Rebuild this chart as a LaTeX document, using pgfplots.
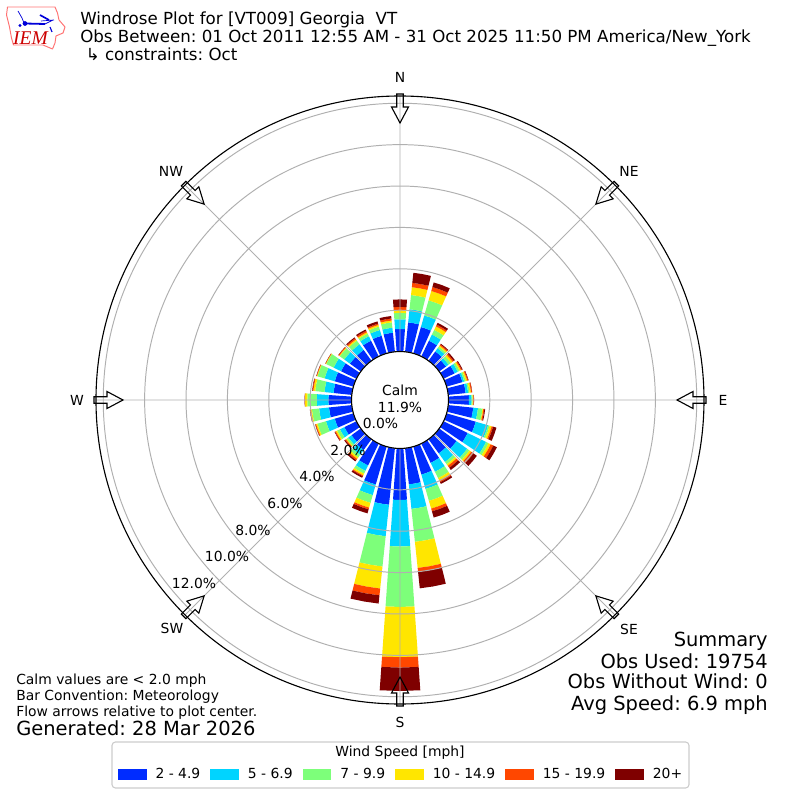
\documentclass[border=0pt]{standalone}
\usepackage{fontspec}
\setmainfont{DejaVu Sans}
\newfontfamily\iemfont{Liberation Serif}
\usepackage{pgfplots}
\usepackage{pgfplotstable}
\usepgfplotslibrary{polar}
\pgfplotsset{compat=1.18}

\definecolor{bin1}{HTML}{002CFF}
\definecolor{bin2}{HTML}{00D4FF}
\definecolor{bin3}{HTML}{7DFF7A}
\definecolor{bin4}{HTML}{FFE600}
\definecolor{bin5}{HTML}{FF4700}
\definecolor{bin6}{HTML}{7F0000}
\definecolor{gridgray}{HTML}{B0B0B0}

% cumulative percent of obs at the top of each speed bin, by direction
\pgfplotstableread{
dir b0 b1 b2 b3 b4 b5 b6
0 0 1.09 1.56 1.87 2.00 2.16 2.52
10 0 1.43 2.07 2.76 3.14 3.35 3.84
20 0 1.33 1.91 2.67 3.14 3.34 3.57
30 0 0.85 1.18 1.43 1.62 1.71 1.81
40 0 0.56 0.75 0.85 0.92 0.98 1.02
50 0 0.41 0.56 0.70 0.80 0.87 0.94
60 0 0.60 0.77 0.87 0.94 0.99 1.03
70 0 0.80 0.89 0.97 1.04 1.09 1.11
80 0 0.85 0.97 1.04 1.11 1.16 1.17
90 0 0.99 1.12 1.17 1.21 1.23 1.24
100 0 1.22 1.45 1.67 1.71 1.76 1.80
110 0 1.47 2.09 2.17 2.27 2.34 2.51
120 0 1.30 2.29 2.42 2.54 2.68 2.87
130 0 1.04 1.67 1.81 1.91 2.05 2.25
140 0 0.85 1.36 1.50 1.59 1.71 1.84
150 0 1.04 1.52 1.86 2.00 2.08 2.17
160 0 1.41 2.13 2.73 3.12 3.26 3.57
170 0 1.76 2.95 4.55 5.82 6.01 6.81
180 0 2.49 4.74 7.66 10.09 10.59 11.72
190 0 2.75 4.28 5.75 6.82 7.15 7.55
200 0 1.91 2.44 2.83 3.07 3.16 3.36
210 0 1.18 1.47 1.62 1.71 1.76 1.84
220 0 0.65 0.94 1.09 1.18 1.26 1.33
230 0 0.56 0.75 0.85 0.89 0.94 0.99
240 0 0.65 0.89 1.04 1.11 1.16 1.18
250 0 0.94 1.38 1.81 1.88 1.92 1.93
260 0 1.11 1.59 1.94 2.00 2.03 2.04
270 0 1.12 1.68 2.14 2.25 2.26 2.27
280 0 0.89 1.33 1.78 1.87 1.91 1.93
290 0 0.94 1.45 1.81 1.84 1.86 1.87
300 0 0.83 1.23 1.63 1.66 1.67 1.68
310 0 0.65 0.99 1.26 1.30 1.34 1.35
320 0 0.65 0.99 1.21 1.28 1.35 1.40
330 0 0.85 1.09 1.23 1.30 1.38 1.45
340 0 0.89 1.18 1.35 1.43 1.50 1.61
350 0 0.93 1.17 1.43 1.52 1.62 1.74
}\rosedata

% the radial axis starts 2.34 below 0 percent to leave room for the calm circle
\newcommand{\rzero}{2.34}
\newcommand{\fs}[1]{\fontsize{#1}{#1}\selectfont}

\begin{document}
\frenchspacing
\begin{tikzpicture}
\path[use as bounding box] (0,0) rectangle (576pt,576pt);
\begin{polaraxis}[
    at={(288pt,288pt)},
    anchor=center,
    scale only axis,
    width=437.76pt,
    height=437.76pt,
    xmin=0, xmax=360,
    ymin=0, ymax=14.69,
    xtick={0,45,...,315},
    xticklabels={},
    ytick={2.34,4.34,6.34,8.34,10.34,12.34,14.34},
    yticklabels={},
    major tick length=0pt,
    grid=major,
    grid style={gridgray, line width=0.7pt},
    x axis line style={black, line width=0.8pt},
    y axis line style={draw=none},
    axis on top,
    clip=false,
    legend columns=6,
    legend cell align=left,
    legend style={
        at={(0.5,-0.1155)}, anchor=center,
        draw=none, fill=none, font=\fs{10},
        nodes={inner xsep=0pt},
        /tikz/every odd column/.append style={column sep=6.8pt},
        /tikz/every even column/.append style={column sep=7.1pt},
    },
    legend image code/.code={
        \fill[#1] (0pt,-3.5pt) rectangle (20pt,3.5pt);
    },
]
\addlegendimage{bin1}
\addlegendentry{2 - 4.9}
\addlegendimage{bin2}
\addlegendentry{5 - 6.9}
\addlegendimage{bin3}
\addlegendentry{7 - 9.9}
\addlegendimage{bin4}
\addlegendentry{10 - 14.9}
\addlegendimage{bin5}
\addlegendentry{15 - 19.9}
\addlegendimage{bin6}
\addlegendentry{20+}

\pgfplotsforeachungrouped \row in {0,...,35} {
    \pgfplotstablegetelem{\row}{dir}\of\rosedata
    \pgfmathsetmacro\angmid{90-\pgfplotsretval}
    \pgfmathsetmacro\angone{\angmid-4}
    \pgfmathsetmacro\angtwo{\angmid+4}
    \pgfplotsforeachungrouped \bin in {1,...,6} {
        \pgfmathtruncatemacro\prevbin{\bin-1}
        \pgfplotstablegetelem{\row}{b\prevbin}\of\rosedata
        \pgfmathsetmacro\rlow{\pgfplotsretval+\rzero}
        \pgfplotstablegetelem{\row}{b\bin}\of\rosedata
        \pgfmathsetmacro\rhigh{\pgfplotsretval+\rzero}
        \edef\wedge{\noexpand\addplot[forget plot, draw=none, fill=bin\bin, mark=none]
            coordinates {(\angone,\rlow) (\angmid,\rlow) (\angtwo,\rlow)
                (\angtwo,\rhigh) (\angmid,\rhigh) (\angone,\rhigh)} --cycle;}
        \wedge
    }
}
\end{polaraxis}

% everything else is placed in image pixels, y down
\begin{scope}[shift={(0,576pt)}, x=0.72pt, y=-0.72pt]
\draw[black, fill=white, line width=0.8pt] (400,400) circle[radius=34.92pt];
\node[font=\fs{10}, align=center, inner sep=0pt] at (400,399) {Calm\\[2.6pt]11.9\%};

\foreach \lab/\px/\py in {0.0\%/380.5/423.5, 2.0\%/348/450.5, 4.0\%/317/476.5,
    6.0\%/285/503, 8.0\%/253/530, 10.0\%/227/556.5, 12.0\%/194/583}
    \node[font=\fs{10}, inner sep=0pt] at (\px,\py) {\lab};

\foreach \lab/\px/\py in {N/400/77, NE/629/171, E/723/400, SE/629/629,
    S/400/722, SW/172/628, W/77/400, NW/171/171}
    \node[font=\fs{10}, inner sep=0pt] at (\px,\py) {\lab};

\foreach \rot in {0,45,...,315} {
    \begin{scope}[shift={(400,400)}, rotate=\rot]
    \draw[black, line width=0.8pt, line join=miter] (-3.3,-306) -- (-3.3,-293) -- (-8.5,-293) -- (0,-277)
        -- (8.5,-293) -- (3.3,-293) -- (3.3,-306) -- cycle;
    \end{scope}
}

% header
\node[font=\fs{12}, anchor=base west, inner sep=0pt] at (80,25) {Windrose Plot for [VT009] Georgia\ \ VT};
\node[font=\fs{12}, anchor=base west, inner sep=0pt] at (80,43) {Obs Between: 01 Oct 2011 12:55 AM - 31 Oct 2025 11:50 PM America/New\_York};
\node[font=\fs{12}, anchor=base west, inner sep=0pt] at (85.5,61) {↳ constraints: Oct};

% footer notes
\node[font=\fs{10}, anchor=base west, inner sep=0pt] at (16,685) {Calm values are < 2.0 mph};
\node[font=\fs{10}, anchor=base west, inner sep=0pt] at (16,701) {Bar Convention: Meteorology};
\node[font=\fs{10}, anchor=base west, inner sep=0pt] at (16,717) {Flow arrows relative to plot center.};
\node[font=\fs{14}, anchor=base west, inner sep=0pt] at (16,736) {Generated: 28 Mar 2026};

\node[font=\fs{14}, anchor=base east, inner sep=0pt] at (768,646) {Summary};
\node[font=\fs{14}, anchor=base east, inner sep=0pt] at (768,668) {Obs Used: 19754};
\node[font=\fs{14}, anchor=base east, inner sep=0pt] at (768,689) {Obs Without Wind: 0};
\node[font=\fs{14}, anchor=base east, inner sep=0pt] at (768,711) {Avg Speed: 6.9 mph};

% legend frame and title
\draw[black!20, line width=0.8pt, rounded corners=2.5pt] (112,742) rectangle (689,788);
\node[font=\fs{10}, inner sep=0pt] at (400,753) {Wind Speed [mph]};

% IEM logo
\draw[red!55!white, line width=0.7pt, line join=round] (7.5,7) -- (55,7) -- (57.5,13) -- (59,20) -- (65,27) -- (63,33) -- (56,36) -- (55,43) -- (52.5,49) -- (43,45) -- (13.5,45) -- (11.5,38) -- (9.5,27) -- (6.5,15) -- cycle;
\draw[blue!85!black, line width=1.3pt] (25,23.5) -- (45,24);
\draw[blue!85!black, line width=0.5pt] (45,24) -- (53,20) (18,11) -- (22,18) -- (24,23) (41,21) -- (54,20);
\draw[blue!85!black, line width=1.2pt] (40,15) -- (49,20);
\fill[blue!85!black] (25,23.5) circle[radius=1.7pt];
\fill[blue!85!black] (20,25.5) circle[radius=1.1pt];
\draw[blue!85!black, line width=0.8pt] (50,27) -- (52,32);
\node[font=\iemfont\itshape\fs{14}, text=red!80!black, inner sep=0pt] at (30.5,38) {IEM};
\end{scope}
\end{tikzpicture}
\end{document}
